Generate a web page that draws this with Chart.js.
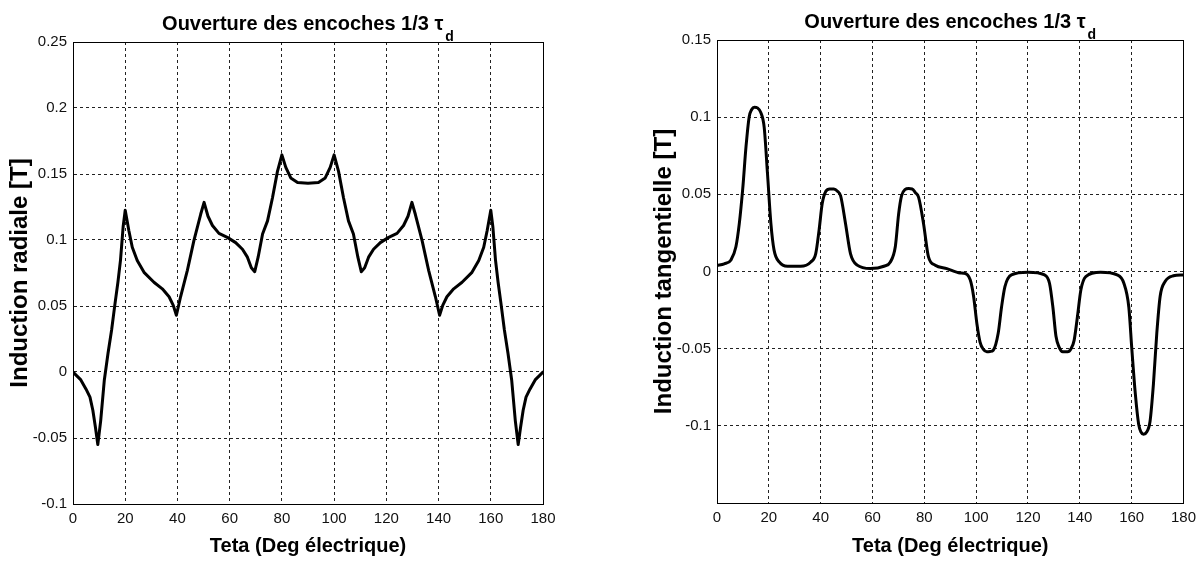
<!DOCTYPE html>
<html><head><meta charset="utf-8">
<script src="https://cdn.jsdelivr.net/npm/chart.js@4/dist/chart.umd.min.js"></script>
<style>
html,body{margin:0;padding:0;background:#fff;overflow:hidden;width:1202px;height:561px}
canvas{position:absolute;top:0}
#c1{left:0}
#c2{left:601px}
</style></head><body>
<canvas id="c1" width="601" height="561"></canvas>
<canvas id="c2" width="601" height="561"></canvas>
<script>
// ---- texts ----
const titleMain = 'Ouverture des encoches 1/3 \u03c4';
const titleSub = 'd';
const xTitle = 'Teta (Deg \u00e9lectrique)';
const yTitleLeft = 'Induction radiale [T]';
const yTitleRight = 'Induction tangentielle [T]';

// ---- ticks ----
const xTicks = [0, 20, 40, 60, 80, 100, 120, 140, 160, 180];
const xLabels = ['0', '20', '40', '60', '80', '100', '120', '140', '160', '180'];
const yTicksLeft = [-0.1, -0.05, 0, 0.05, 0.1, 0.15, 0.2, 0.25];
const yLabelsLeft = ['-0.1', '-0.05', '0', '0.05', '0.1', '0.15', '0.2', '0.25'];
const yTicksRight = [-0.15, -0.1, -0.05, 0, 0.05, 0.1, 0.15];
const yLabelsRight = ['', '-0.1', '-0.05', '0', '0.05', '0.1', '0.15'];

// ---- radial induction (left) ----
const thetaRadial = [0, 3, 5, 6.5, 7.6, 8.6, 9.5, 10.6, 12, 13.4, 14.8, 16.1, 17.2, 18.2, 19.2, 20,
  21.4, 22.7, 24.6, 27.2, 31, 34.2, 36.8, 38.4, 39.6, 41.2, 43.8, 46.3, 48.9, 50.2,
  51.7, 53.4, 55.9, 59.1, 62.3, 64.9, 66.8, 68.3, 69.6, 70.9, 72.6, 74.5, 76.4, 78.3, 80,
  81.5, 83.4, 86, 90, 94, 96.6, 98.5, 100,
  101.7, 103.6, 105.5, 107.4, 109.1, 110.4, 111.7, 113.2, 115.1, 117.7, 120.9, 124.1, 126.6, 128.3, 129.8,
  131.1, 133.7, 136.2, 138.8, 140.4, 141.6, 143.2, 145.8, 149, 152.8, 155.4, 157.3, 158.6, 160,
  160.8, 161.8, 162.8, 163.9, 165.2, 166.6, 168, 169.4, 170.5, 171.4, 172.4, 173.5, 175, 177, 180];
const bRadial = [0, -0.006, -0.013, -0.019, -0.029, -0.042, -0.055, -0.037, -0.006, 0.014, 0.032, 0.052, 0.068, 0.085, 0.110, 0.1225,
  0.107, 0.0945, 0.0845, 0.0755, 0.068, 0.063, 0.057, 0.0505, 0.043, 0.057, 0.077, 0.0995, 0.1195, 0.1285,
  0.118, 0.111, 0.105, 0.102, 0.098, 0.093, 0.087, 0.079, 0.076, 0.087, 0.1045, 0.1145, 0.132, 0.152, 0.1645,
  0.155, 0.147, 0.1435, 0.143, 0.1435, 0.147, 0.155, 0.1645,
  0.152, 0.132, 0.1145, 0.1045, 0.087, 0.076, 0.079, 0.087, 0.093, 0.098, 0.102, 0.105, 0.111, 0.118, 0.1285,
  0.1195, 0.0995, 0.077, 0.057, 0.043, 0.0505, 0.057, 0.063, 0.068, 0.0755, 0.0845, 0.0945, 0.107, 0.1225,
  0.110, 0.085, 0.068, 0.052, 0.032, 0.014, -0.006, -0.037, -0.055, -0.042, -0.029, -0.019, -0.013, -0.006, 0];

// ---- tangential induction (right) ----
const thetaTang = [0, 2.8, 5.4, 7.3, 8.6, 9.9, 11.2, 12.4, 13.4, 14.4, 15.6, 16.9, 18.2, 19.5, 20.8, 22, 24, 27.2,
  32.3, 36.2, 38.1, 39.4, 40.6, 42, 43.5, 45.1, 46.5, 47.7, 49.6, 51.5, 54.1, 59.2,
  64.4, 66.9, 68.8, 70.1, 71.2, 72.5, 74, 75.3, 76.6, 77.8, 79.7, 81.6, 84.2, 88.7,
  93.8, 95.2, 97.7, 99, 100.3, 101.5, 102.8, 104.1, 105.4, 106.6, 108.5, 109.8, 111.1, 113.6, 120,
  126.4, 128.3, 129.6, 130.8, 132, 133.4, 135.3, 136.6, 137.8, 139.1, 140.4, 142.3, 148,
  154.4, 157, 158.9, 160.1, 161.4, 162.7, 163.6, 164.6, 165.8, 167.1, 168.4, 169.7, 171, 172.9, 176.1, 180];
const bTang = [0.004, 0.005, 0.0075, 0.016, 0.031, 0.053, 0.081, 0.1, 0.105, 0.1065, 0.106, 0.103, 0.0935, 0.063, 0.031, 0.014, 0.0062, 0.0034,
  0.0034, 0.0062, 0.0116, 0.027, 0.044, 0.052, 0.0535, 0.0535, 0.052, 0.049, 0.031, 0.0116, 0.0041, 0.0019,
  0.0034, 0.0062, 0.016, 0.0375, 0.049, 0.053, 0.0537, 0.0535, 0.051, 0.048, 0.031, 0.0095, 0.0041, 0.0019,
  -0.0009, -0.0011, -0.0054, -0.016, -0.034, -0.0457, -0.0505, -0.052, -0.0518, -0.051, -0.040, -0.023, -0.0098, -0.0022, -0.0005,
  -0.0022, -0.0076, -0.023, -0.042, -0.049, -0.052, -0.052, -0.05, -0.0446, -0.029, -0.012, -0.0033, -0.0005,
  -0.0022, -0.0076, -0.023, -0.051, -0.079, -0.099, -0.104, -0.1054, -0.104, -0.097, -0.073, -0.040, -0.016, -0.0065, -0.0028, -0.0022];

const FONT = '"Liberation Sans", Arial, sans-serif';
const NARROW = '"Liberation Sans Narrow", "Liberation Sans", Arial, sans-serif';

const boxPlugin = {
  id: 'box',
  afterDraw(chart) {
    const {ctx, chartArea: a} = chart;
    ctx.save();
    ctx.strokeStyle = '#000';
    ctx.lineWidth = 1;
    ctx.setLineDash([]);
    const l = Math.round(a.left) + 0.5, t = Math.round(a.top) + 0.5;
    ctx.strokeRect(l, t, Math.round(a.right) - Math.round(a.left), Math.round(a.bottom) - Math.round(a.top));
    ctx.restore();
  }
};

const titlePlugin = {
  id: 'subTitle',
  afterDraw(chart, args, opts) {
    const {ctx, chartArea: a} = chart;
    ctx.save();
    ctx.fillStyle = '#000';
    ctx.textBaseline = 'alphabetic';
    ctx.textAlign = 'left';
    const f1 = 'bold 20px ' + FONT, f2 = 'bold 14px ' + FONT;
    ctx.font = f1;
    const w1 = ctx.measureText(titleMain).width;
    ctx.font = f2;
    const w2 = ctx.measureText(titleSub).width;
    const x0 = (a.left + a.right) / 2 - (w1 + 2 + w2) / 2;
    ctx.font = f1;
    ctx.fillText(titleMain, x0, opts.baseline);
    ctx.font = f2;
    ctx.fillText(titleSub, x0 + w1 + 2, opts.baseline + 11);
    ctx.restore();
  }
};

function makeChart(id, xs, ys, yTicks, yLabels, yTitle, geo, smooth) {
  const pts = xs.map((x, i) => ({x: x, y: ys[i]}));
  return new Chart(document.getElementById(id), {
    type: 'line',
    data: {datasets: [{
      data: pts, borderColor: '#000', borderWidth: 3, pointRadius: 0, fill: false,
      tension: smooth ? 0.4 : 0, cubicInterpolationMode: smooth ? 'monotone' : 'default',
      borderJoinStyle: 'round', borderCapStyle: 'round'
    }]},
    options: {
      responsive: false, animation: false,
      layout: {padding: {left: 0, right: geo.padRight, top: geo.top, bottom: 0}},
      plugins: {legend: {display: false}, tooltip: {enabled: false}, title: {display: false},
        subTitle: {baseline: geo.titleBase}},
      scales: {
        x: {
          type: 'linear', min: 0, max: 180,
          afterBuildTicks: s => { s.ticks = xTicks.map(v => ({value: v})); },
          afterFit: s => { s.height = geo.xHeight; },
          ticks: {callback: (v, i) => xLabels[i], font: {family: NARROW, size: 15}, color: '#111',
            padding: 6, maxRotation: 0, autoSkip: false},
          grid: {color: '#222', lineWidth: 1, drawTicks: false},
          border: {display: true, color: '#000', width: 1, dash: [3, 3]},
          title: {display: true, text: xTitle, color: '#000',
            font: {family: FONT, size: 20, weight: 'bold'}, padding: {top: 0, bottom: 3}}
        },
        y: {
          type: 'linear', min: yTicks[0], max: yTicks[yTicks.length - 1],
          afterBuildTicks: s => { s.ticks = yTicks.map(v => ({value: v})); },
          afterFit: s => { s.width = geo.yWidth; },
          ticks: {callback: (v, i) => yLabels[i], font: {family: NARROW, size: 15}, color: '#111',
            padding: 6, autoSkip: false},
          grid: {color: '#222', lineWidth: 1, drawTicks: false},
          border: {display: true, color: '#000', width: 1, dash: [3, 3]},
          title: {display: true, text: yTitle, color: '#000',
            font: {family: FONT, size: 24, weight: 'bold'}, padding: {top: geo.yTitlePad, bottom: 0}}
        }
      }
    },
    plugins: [boxPlugin, titlePlugin]
  });
}

makeChart('c1', thetaRadial, bRadial, yTicksLeft, yLabelsLeft, yTitleLeft,
  {padRight: 58, top: 42, xHeight: 57, yWidth: 73, yTitlePad: 6, titleBase: 30}, false);
makeChart('c2', thetaTang, bTang, yTicksRight, yLabelsRight, yTitleRight,
  {padRight: 15, top: 40, xHeight: 58, yWidth: 116, yTitlePad: 49, titleBase: 27.5}, true);
</script>
</body></html>
